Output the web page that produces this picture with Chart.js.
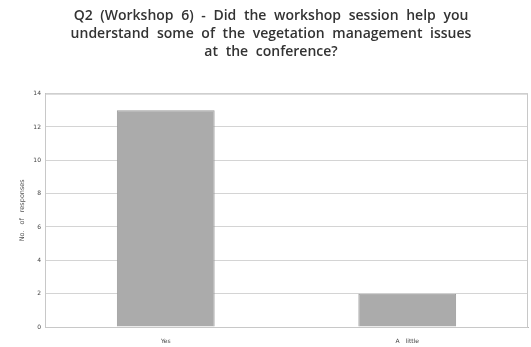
<!DOCTYPE html>
<html>
<head>
<meta charset="utf-8">
<script src="https://cdn.jsdelivr.net/npm/chart.js@4"></script>
<style>
  html, body { margin: 0; padding: 0; background: #fff; }
  #chart { display: block; }
</style>
</head>
<body>
<canvas id="chart" width="531" height="347"></canvas>
<script>
// chart data
const categories = ["Yes", "A little"];
const responses = [13, 2];
const titleLines = [
    "Q2 (Workshop 6) - Did the workshop session help you",
    "understand some of the vegetation management issues",
    "at the conference?"
];
const yTitle = "No. of responses";

new Chart(document.getElementById("chart"), {
    type: "bar",
    data: {
        labels: categories,
        datasets: [{
            data: responses,
            backgroundColor: "#ababab",
            borderColor: "#9a9a9a",
            borderWidth: 1,
            categoryPercentage: 1,
            barPercentage: 0.405
        }]
    },
    options: {
        responsive: false,
        animation: false,
        layout: { padding: { left: 14, right: 3, top: 6, bottom: 0 } },
        plugins: {
            legend: { display: false },
            tooltip: { enabled: false },
            title: {
                display: true,
                text: titleLines,
                color: "#333",
                font: { family: "Open Sans", size: 14, weight: 600, lineHeight: 1.3 },
                padding: { top: 1, bottom: 32 }
            }
        },
        scales: {
            x: {
                grid: { display: false },
                border: { color: "#bbb" },
                ticks: { color: "#444", font: { family: "DejaVu Sans", size: 6 }, padding: 3 },
                afterFit(scale) { scale.height = 20; }
            },
            y: {
                min: 0,
                max: 14,
                ticks: { stepSize: 2, color: "#444", font: { family: "DejaVu Sans", size: 6 }, padding: 4 },
                grid: { color: "#d4d4d4", lineWidth: 1, tickLength: 0 },
                border: { color: "#bbb" },
                title: {
                    display: true,
                    text: yTitle,
                    color: "#555",
                    font: { family: "DejaVu Sans", size: 6.5 },
                    padding: { bottom: 10 }
                },
                afterFit(scale) { scale.width = 31; }
            }
        }
    },
    plugins: [{
        id: "frame",
        beforeDraw(chart) {
            // the original title has wide gaps between words
            chart.ctx.wordSpacing = "4px";
        },
        afterDraw(chart) {
            const a = chart.chartArea, c = chart.ctx;
            c.save();
            c.strokeStyle = "#c8c8c8";
            c.lineWidth = 1;
            c.strokeRect(a.left + 0.5, a.top + 0.5, a.right - a.left - 1, a.bottom - a.top);
            c.restore();
        }
    }]
});
</script>
</body>
</html>
